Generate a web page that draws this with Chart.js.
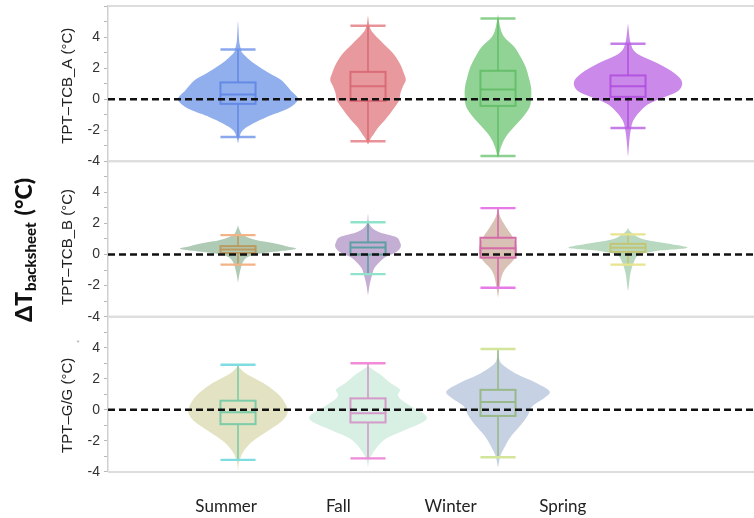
<!DOCTYPE html>
<html>
<head>
<meta charset="utf-8">
<script src="https://cdn.jsdelivr.net/npm/chart.js@4.4.1/dist/chart.umd.min.js"></script>
<style>
  html, body { margin: 0; padding: 0; background: #fff; overflow: hidden; }
  #wrap { width: 754px; height: 518px; position: relative; }
</style>
</head>
<body>
<div id="wrap"><canvas id="c" width="754" height="518"></canvas></div>
<script>
// ---- categories and labels ----
const seasons = ['Summer', 'Fall', 'Winter', 'Spring'];
const panelTitles = ['TPT\u2013TCB_A (\u00B0C)', 'TPT\u2013TCB_B (\u00B0C)', 'TPT\u2013G/G (\u00B0C)'];
const yTickLabels = [-4, -2, 0, 2, 4];

// ---- box-plot statistics (°C), one value per season ----
const tcbA_low    = [-2.43, -2.71, -3.66, -1.85];
const tcbA_q1     = [-0.30, -0.11, -0.43,  0.15];
const tcbA_median = [ 0.30,  0.84,  0.62,  0.84];
const tcbA_q3     = [ 1.08,  1.76,  1.83,  1.53];
const tcbA_high   = [ 3.20,  4.73,  5.20,  3.57];

const tcbB_low    = [-0.65, -1.26, -2.14, -0.65];
const tcbB_q1     = [ 0.10,  0.00, -0.20,  0.17];
const tcbB_median = [ 0.32,  0.45,  0.41,  0.43];
const tcbB_q3     = [ 0.54,  0.78,  1.08,  0.69];
const tcbB_high   = [ 1.25,  2.08,  2.99,  1.30];

const gg_low      = [-3.22, -3.12, -3.05];
const gg_q1       = [-0.92, -0.81, -0.39];
const gg_median   = [-0.15, -0.22,  0.50];
const gg_q3       = [ 0.59,  0.74,  1.29];
const gg_high     = [ 2.90,  3.00,  3.92];

// ---- violin density profiles: [ΔT °C, relative density] ----
const tcbA_summer = [[-2.8,0.003],[-2.43,0.025],[-2.0,0.08],[-1.57,0.25],[-1.14,0.48],[-0.71,0.77],[-0.39,0.92],[0.04,1.0],[0.58,0.875],[1.23,0.72],[1.66,0.53],[2.3,0.27],[2.95,0.08],[3.2,0.05],[3.6,0.025],[4.0,0.015],[4.9,0.003]];
const tcbA_fall   = [[-2.9,0.003],[-2.75,0.02],[-2.5,0.05],[-2.22,0.1],[-1.78,0.18],[-1.35,0.28],[-0.92,0.37],[-0.49,0.45],[-0.06,0.52],[0.37,0.54],[0.8,0.58],[1.23,0.63],[1.66,0.6],[2.3,0.53],[2.95,0.42],[3.6,0.25],[4.45,0.05],[5.3,0.003]];
const tcbA_winter = [[-3.75,0.003],[-3.66,0.012],[-3.08,0.05],[-2.43,0.13],[-1.78,0.27],[-1.13,0.42],[-0.49,0.53],[0.15,0.555],[0.8,0.55],[1.44,0.51],[2.09,0.46],[2.73,0.375],[3.38,0.27],[4.02,0.1],[4.67,0.035],[5.4,0.003]];
const tcbA_spring = [[-3.6,0.003],[-2.85,0.018],[-1.99,0.045],[-1.35,0.09],[-0.71,0.22],[-0.28,0.36],[0.15,0.625],[0.58,0.85],[1.12,0.9],[1.66,0.78],[2.3,0.5],[2.95,0.15],[3.6,0.045],[4.77,0.003]];

const tcbB_summer = [[-1.75,0.003],[-1.34,0.02],[-0.91,0.045],[-0.48,0.083],[-0.15,0.17],[0.06,0.37],[0.24,0.75],[0.38,0.97],[0.54,0.8],[0.74,0.58],[0.93,0.3],[1.25,0.083],[1.7,0.015],[1.85,0.003]];
const tcbB_fall   = [[-2.55,0.003],[-1.88,0.03],[-1.34,0.067],[-0.91,0.1],[-0.48,0.195],[-0.15,0.3],[0.17,0.47],[0.49,0.545],[0.82,0.53],[1.14,0.46],[1.47,0.17],[1.9,0.03],[2.55,0.003]];
const tcbB_winter = [[-2.7,0.003],[-1.99,0.03],[-1.34,0.067],[-0.91,0.125],[-0.48,0.23],[-0.04,0.305],[0.38,0.317],[0.82,0.29],[1.23,0.23],[1.67,0.15],[2.32,0.05],[2.8,0.003]];
const tcbB_spring = [[-2.3,0.003],[-1.78,0.02],[-1.13,0.045],[-0.48,0.1],[-0.04,0.18],[0.22,0.47],[0.43,0.99],[0.72,0.63],[1.02,0.23],[1.45,0.045],[1.7,0.003]];

const gg_summer   = [[-3.85,0.003],[-3.38,0.017],[-2.73,0.083],[-2.07,0.23],[-1.42,0.47],[-0.76,0.72],[-0.22,0.825],[0.33,0.8],[0.98,0.68],[1.64,0.46],[2.29,0.15],[2.75,0.017],[2.85,0.003]];
const gg_fall     = [[-3.65,0.003],[-3.16,0.03],[-2.5,0.13],[-1.85,0.3],[-1.31,0.61],[-0.88,0.87],[-0.55,0.98],[-0.22,0.92],[0.22,0.72],[0.66,0.55],[0.98,0.5],[1.32,0.53],[1.75,0.37],[2.29,0.2],[2.73,0.03],[2.85,0.003]];
const gg_winter   = [[-3.65,0.003],[-2.94,0.042],[-2.29,0.125],[-1.64,0.23],[-0.98,0.38],[-0.33,0.5],[0.22,0.57],[0.76,0.77],[1.2,0.86],[1.75,0.63],[2.29,0.32],[2.94,0.067],[3.38,0.015],[3.6,0.003]];

// ---- styling ----
const X_MAX = 646 / 130;          // category k sits at x = k
const VIOLIN_SCALE = 0.4615;      // x units per unit of relative density
const BOX_HALF = 0.135;           // half width of boxes and caps, x units

const panels = [
  { axis: 'yA', title: panelTitles[0], titleShift: 2,
    violins: [tcbA_summer, tcbA_fall, tcbA_winter, tcbA_spring],
    low: tcbA_low, q1: tcbA_q1, med: tcbA_median, q3: tcbA_q3, high: tcbA_high,
    fill: ['rgba(118,154,232,0.8)', 'rgba(226,128,134,0.8)', 'rgba(118,200,122,0.8)', 'rgba(190,108,228,0.8)'],
    line: ['rgba(92,132,228,0.85)', 'rgba(214,98,110,0.8)', 'rgba(92,186,98,0.8)', 'rgba(172,72,222,0.8)'],
    cap:  ['rgba(110,146,232,0.8)', 'rgba(228,120,128,0.8)', 'rgba(110,196,114,0.8)', 'rgba(182,92,226,0.8)'] },
  { axis: 'yB', title: panelTitles[1], titleShift: 8,
    violins: [tcbB_summer, tcbB_fall, tcbB_winter, tcbB_spring],
    low: tcbB_low, q1: tcbB_q1, med: tcbB_median, q3: tcbB_q3, high: tcbB_high,
    fill: ['#afcbb5', '#c4aed3', '#d9c1b5', '#b8d9bf'],
    line: ['#bb9a60', '#5d9fa2', '#d46aa8', '#c3c574'],
    cap:  ['#f2b386', '#8fe3cb', '#e87ae8', '#e8e48f'] },
  { axis: 'yC', title: panelTitles[2], titleShift: 11,
    violins: [gg_summer, gg_fall, gg_winter],
    low: gg_low, q1: gg_q1, med: gg_median, q3: gg_q3, high: gg_high,
    fill: ['#e3e3c3', '#d8efe3', '#c6d2e3'],
    line: ['#7ccba9', '#d49ac9', '#98b989'],
    cap:  ['#7fdde2', '#f08ad9', '#d3e49b'] }
];

function closedSpline(ctx, pts) {
  const n = pts.length;
  ctx.moveTo(pts[0].x, pts[0].y);
  for (let i = 0; i < n; i++) {
    const p0 = pts[(i - 1 + n) % n], p1 = pts[i], p2 = pts[(i + 1) % n], p3 = pts[(i + 2) % n];
    const t = 1 / 6;
    ctx.bezierCurveTo(p1.x + (p2.x - p0.x) * t, p1.y + (p2.y - p0.y) * t,
                      p2.x - (p3.x - p1.x) * t, p2.y - (p3.y - p1.y) * t, p2.x, p2.y);
  }
  ctx.closePath();
}

const violinPlugin = {
  id: 'violins',
  beforeDatasetsDraw(chart) {
    const ctx = chart.ctx;
    const xs = chart.scales.x;
    panels.forEach(p => {
      const ys = chart.scales[p.axis];
      p.violins.forEach((prof, i) => {
        const k = i + 1;
        // violin body
        const right = prof.map(([v, d]) => ({ x: xs.getPixelForValue(k + d * VIOLIN_SCALE), y: ys.getPixelForValue(v) }));
        const left = prof.slice().reverse().map(([v, d]) => ({ x: xs.getPixelForValue(k - d * VIOLIN_SCALE), y: ys.getPixelForValue(v) }));
        ctx.save();
        ctx.filter = 'blur(0.6px)';
        ctx.beginPath();
        closedSpline(ctx, right.concat(left));
        ctx.fillStyle = p.fill[i];
        ctx.fill();
        ctx.restore();

        // box and whiskers
        const cx = xs.getPixelForValue(k);
        const x0 = xs.getPixelForValue(k - BOX_HALF);
        const x1 = xs.getPixelForValue(k + BOX_HALF);
        const yLo = ys.getPixelForValue(p.low[i]);
        const yQ1 = ys.getPixelForValue(p.q1[i]);
        const yMd = ys.getPixelForValue(p.med[i]);
        const yQ3 = ys.getPixelForValue(p.q3[i]);
        const yHi = ys.getPixelForValue(p.high[i]);
        ctx.save();
        ctx.strokeStyle = p.line[i];
        ctx.lineWidth = 1.6;
        ctx.beginPath();
        ctx.moveTo(cx, yHi); ctx.lineTo(cx, yQ3);
        ctx.moveTo(cx, yQ1); ctx.lineTo(cx, yLo);
        ctx.stroke();
        ctx.lineWidth = 2;
        ctx.strokeRect(x0, yQ3, x1 - x0, yQ1 - yQ3);
        ctx.beginPath();
        ctx.moveTo(x0, yMd); ctx.lineTo(x1, yMd);
        ctx.stroke();
        ctx.strokeStyle = p.cap[i];
        ctx.lineWidth = 2.4;
        ctx.beginPath();
        ctx.moveTo(x0, yHi); ctx.lineTo(x1, yHi);
        ctx.moveTo(x0, yLo); ctx.lineTo(x1, yLo);
        ctx.stroke();
        ctx.restore();
      });
    });
  }
};

const framePlugin = {
  id: 'frames',
  beforeDraw(chart) {
    const ctx = chart.ctx;
    ctx.save();
    ctx.fillStyle = '#fff';
    ctx.fillRect(0, 0, chart.width, chart.height);
    ctx.restore();
  },
  afterDraw(chart) {
    const ctx = chart.ctx;
    const area = chart.chartArea;
    ctx.save();
    ctx.strokeStyle = '#dddddd';
    ctx.lineWidth = 2;
    panels.forEach(p => {
      const ys = chart.scales[p.axis];
      ctx.beginPath();
      ctx.moveTo(area.left, ys.top); ctx.lineTo(area.right, ys.top);
      ctx.moveTo(area.left, ys.bottom); ctx.lineTo(area.right, ys.bottom);
      ctx.stroke();
    });
    // panel axis titles
    ctx.fillStyle = '#222';
    ctx.font = '15px "Liberation Sans", Arial, sans-serif';
    ctx.textAlign = 'center';
    ctx.textBaseline = 'middle';
    panels.forEach(p => {
      const ys = chart.scales[p.axis];
      ctx.save();
      ctx.translate(68, (ys.top + ys.bottom) / 2 + p.titleShift);
      ctx.rotate(-Math.PI / 2);
      ctx.fillText(p.title, 0, 0);
      ctx.restore();
    });
    ctx.fillStyle = '#aaa';
    ctx.font = '8px "Liberation Sans", Arial, sans-serif';
    ctx.fillText('*', 78, 343);

    // shared quantity label
    ctx.save();
    ctx.translate(32, 250);
    ctx.rotate(-Math.PI / 2);
    ctx.fillStyle = '#111';
    ctx.textAlign = 'left';
    ctx.textBaseline = 'alphabetic';
    const big = '900 23px Lato, "Open Sans", sans-serif';
    const small = '900 15px Lato, "Open Sans", sans-serif';
    ctx.font = big; const w1 = ctx.measureText('\u0394T').width;
    ctx.font = small; const w2 = ctx.measureText('backsheet').width;
    ctx.font = big; const w3 = ctx.measureText('(\u00B0C)').width;
    const gap = 4;
    let s = -(w1 + w2 + w3 + 2 * gap) / 2;
    ctx.font = big; ctx.fillText('\u0394T', s, 0); s += w1 + 1;
    ctx.font = small; ctx.fillText('backsheet', s, 4); s += w2 + gap + 3;
    ctx.font = big; ctx.fillText('(\u00B0C)', s, 0);
    ctx.restore();
    ctx.restore();
  }
};

function yAxis(weight) {
  return {
    type: 'linear', position: 'left', stack: 'panels', stackWeight: 1, weight: weight,
    min: -4, max: 6,
    afterFit: s => { s.width = 108; s.paddingTop = 0; s.paddingBottom = 0; },
    grid: { display: true, drawOnChartArea: false, drawTicks: true, tickLength: 4, color: '#b8b8b8', lineWidth: 1 },
    border: { display: true, color: '#d0d0d0', width: 1.5 },
    ticks: {
      stepSize: 1, autoSkip: false, includeBounds: false, padding: 4, color: '#333',
      font: { family: '"Liberation Sans", Arial, sans-serif', size: 14 },
      callback: v => yTickLabels.includes(v) ? String(v) : ''
    },
    title: { display: false }
  };
}

new Chart(document.getElementById('c'), {
  type: 'line',
  data: {
    datasets: panels.map(p => ({
      data: [{ x: 0, y: 0 }, { x: X_MAX, y: 0 }],
      xAxisID: 'x', yAxisID: p.axis,
      borderColor: '#111', borderWidth: 2.5, borderDash: [7, 4],
      pointRadius: 0, fill: false
    }))
  },
  options: {
    responsive: false, animation: false, events: [],
    layout: { padding: { top: 6, left: 0, right: 0, bottom: 0 } },
    plugins: { legend: { display: false }, tooltip: { enabled: false } },
    scales: {
      x: { type: 'linear', min: 0, max: X_MAX, display: false },
      xl: {
        type: 'linear', position: 'bottom', min: -0.0535, max: 5.704,
        afterFit: s => { s.height = 46; s.paddingLeft = 0; s.paddingRight = 0; },
        grid: { display: false, drawTicks: false },
        border: { display: false },
        ticks: {
          stepSize: 1, autoSkip: false, includeBounds: false, maxRotation: 0, padding: 24,
          color: '#222', font: { family: 'Lato, "Open Sans", sans-serif', size: 17 },
          callback: v => seasons[v - 1] || ''
        }
      },
      yA: yAxis(3),
      yB: yAxis(2),
      yC: yAxis(1)
    }
  },
  plugins: [framePlugin, violinPlugin]
});
</script>
</body>
</html>
